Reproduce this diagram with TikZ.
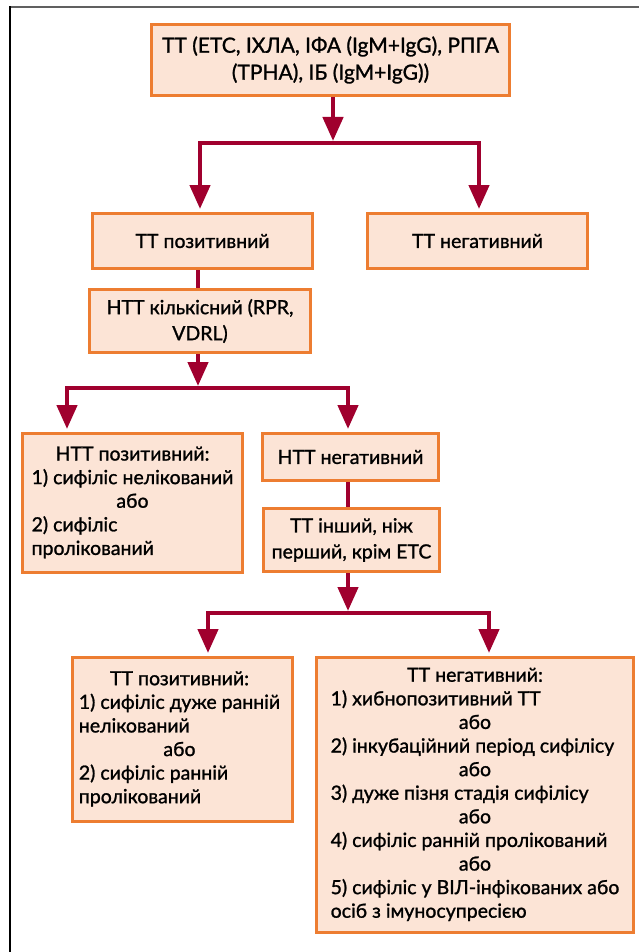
\documentclass[tikz,border=0pt]{standalone}
\usepackage{fontspec}
\setmainfont{Lato}[FakeBold=1.2]
\usetikzlibrary{arrows.meta}
\definecolor{boxfill}{RGB}{252,228,214}
\definecolor{boxline}{RGB}{237,125,49}
\definecolor{arr}{RGB}{160,0,46}
\definecolor{topline}{RGB}{96,96,96}
\newcommand{\ctrline}[1]{\multicolumn{1}{@{}c@{}}{#1}}
\tikzset{
  box/.style={draw=boxline, fill=boxfill, line width=3pt, inner sep=0pt,
    font=\fontsize{19.5}{26}\selectfont, align=center},
  topbox/.style={box, font=\fontsize{21}{27}\selectfont},
  listbox/.style={box, font=\fontsize{19.5}{23.6}\selectfont},
  conn/.style={draw=arr, line width=4.5pt},
  bar/.style={conn, line cap=rect},
  arrowconn/.style={conn, -{Triangle[width=20pt,length=24pt]}, shorten >=3pt},
  frameline/.style={line width=1.8pt}
}
\begin{document}
\begin{tikzpicture}[x=1pt,y=-1pt]
\useasboundingbox (0,0) rectangle (639,952);
% frame
\draw[frameline, draw=topline] (9,7) -- (639,7);
\draw[frameline, draw=black] (10,6.1) -- (10,952);

% nodes
\node[topbox, minimum width=358pt, minimum height=71pt] (top) at (330.5,60)
  {ТТ (ЕТС, ІХЛА, ІФА (IgM+IgG), РПГА\\(TPHA), ІБ (IgM+IgG))};
\node[box, minimum width=220pt, minimum height=55pt] (ttpos) at (202.5,241) {ТТ позитивний};
\node[box, minimum width=220pt, minimum height=55pt] (ttneg) at (477.5,241) {ТТ негативний};
\node[box, minimum width=221pt, minimum height=63pt] (nttq) at (200,321)
  {НТТ кількісний (RPR,\\VDRL)};
\node[listbox, minimum width=220pt, minimum height=139pt] (nttpos) at (132.5,503)
  {\begin{tabular}{@{}l@{}}
   \ctrline{НТТ позитивний:}\\
   1) сифіліс нелікований\\
   \ctrline{або}\\
   2) сифіліс\\
   пролікований
   \end{tabular}};
\node[box, minimum width=176pt, minimum height=47pt] (nttneg) at (350.5,457) {НТТ негативний};
\node[box, minimum width=176pt, minimum height=63pt] (ttother) at (351.5,540)
  {ТТ інший, ніж\\перший, крім ЕТС};
\node[listbox, minimum width=220pt, minimum height=164pt] (ttpos2) at (182.5,739.5)
  {\begin{tabular}{@{}l@{}}
   \ctrline{ТТ позитивний:}\\
   1) сифіліс дуже ранній\\
   нелікований\\
   \ctrline{або}\\
   2) сифіліс ранній\\
   пролікований
   \end{tabular}\hspace*{6pt}};
\node[listbox, minimum width=317pt, minimum height=275pt] (ttneg2) at (475,795)
  {\begin{tabular}{@{}l@{}}
   \ctrline{ТТ негативний:}\\
   1) хибнопозитивний ТТ\\
   \ctrline{або}\\
   2) інкубаційний період сифілісу\\
   \ctrline{або}\\
   3) дуже пізня стадія сифілісу\\
   \ctrline{або}\\
   4) сифіліс ранній пролікований\\
   \ctrline{або}\\
   5) сифіліс у ВІЛ-інфікованих або\\
   осіб з імуносупресією
   \end{tabular}};

% junction coordinates
\coordinate (j1) at (333,143);
\coordinate (j1l) at (200,143);
\coordinate (j1r) at (479,143);
\coordinate (j2) at (198,388);
\coordinate (j2l) at (67,388);
\coordinate (j2r) at (348,388);
\coordinate (j3) at (348,613);
\coordinate (j3l) at (208,613);
\coordinate (j3r) at (489,613);

% connectors
\draw[arrowconn, shorten >=2pt] (top.south -| j1) -- (j1);
\draw[bar] (j1l) -- (j1r);
\draw[arrowconn] (j1l) -- (ttpos.north -| j1l);
\draw[arrowconn] (j1r) -- (ttneg.north -| j1r);

\draw[conn] (ttpos.south -| j2) -- (nttq.north -| j2);
\draw[arrowconn, shorten >=2pt] (nttq.south -| j2) -- (j2);
\draw[bar] (j2l) -- (j2r);
\draw[arrowconn] (j2l) -- (nttpos.north -| j2l);
\draw[arrowconn] (j2r) -- (nttneg.north -| j2r);

\draw[conn] (nttneg.south -| j3) -- (ttother.north -| j3);
\draw[arrowconn, shorten >=2pt] (ttother.south -| j3) -- (j3);
\draw[bar] (j3l) -- (j3r);
\draw[arrowconn] (j3l) -- (ttpos2.north -| j3l);
\draw[arrowconn] (j3r) -- (ttneg2.north -| j3r);
\end{tikzpicture}
\end{document}
